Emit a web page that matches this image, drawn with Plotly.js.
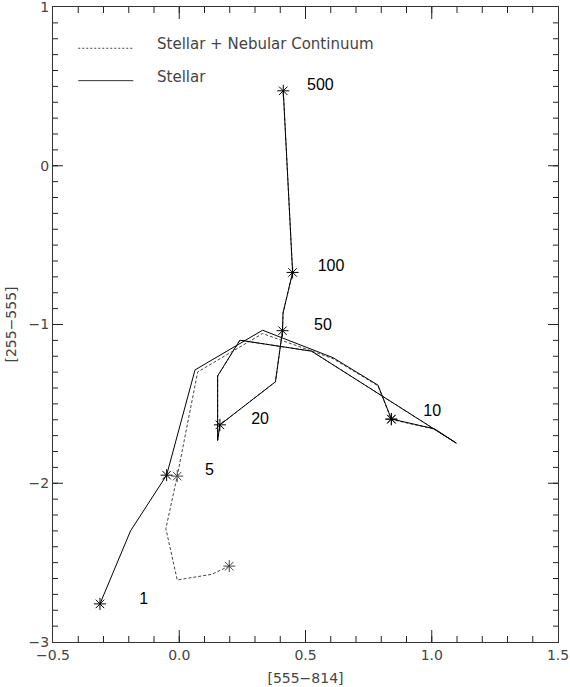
<!DOCTYPE html>
<html>
<head>
<meta charset="utf-8">
<script src="https://cdn.plot.ly/plotly-3.0.1.min.js"></script>
<style>
  body { margin: 0; background: #fff; }
  #plotArea { width: 570px; height: 687px; }
  #plotArea .crisp { shape-rendering: auto !important; }
</style>
</head>
<body>
<div id="plotArea"></div>
<script>
// Stellar track: colour [555-814] vs [255-555]
var stellarX = [-0.314, -0.193, -0.05, 0.0625, 0.33, 0.609, 0.787, 0.84, 1.011, 1.097,
  0.524, 0.24, 0.152, 0.152, 0.161, 0.381, 0.409, 0.411, 0.449, 0.412];
var stellarY = [-2.76, -2.30, -1.949, -1.286, -1.036, -1.209, -1.382, -1.595, -1.657, -1.747,
  -1.168, -1.099, -1.324, -1.73, -1.632, -1.361, -1.039, -0.928, -0.672, 0.472];
var stellarAgeIdx = [0, 2, 7, 14, 16, 18, 19];

// Stellar + nebular continuum track
var nebularX = [0.198, 0.128, -0.008, -0.053, -0.008, 0.073, 0.33, 0.609, 0.787, 0.84, 1.011, 1.097,
  0.524, 0.24, 0.152, 0.152, 0.161, 0.381, 0.409, 0.411, 0.449, 0.412];
var nebularY = [-2.522, -2.574, -2.609, -2.286, -1.955, -1.299, -1.057, -1.215, -1.386, -1.598, -1.66, -1.747,
  -1.168, -1.099, -1.324, -1.73, -1.632, -1.361, -1.039, -0.928, -0.672, 0.472];
var nebularAgeIdx = [0, 4, 9];

// age labels (Myr)
var ageText = ["1", "5", "10", "20", "50", "100", "500"];
var ageLabelX = [-0.141, 0.12, 1.002, 0.32, 0.569, 0.601, 0.559];
var ageLabelY = [-2.734, -1.922, -1.553, -1.599, -1.007, -0.636, 0.503];

// tick labels
var xTickVals = [-0.5, 0, 0.5, 1.0, 1.5];
var xTickText = ["\u22120.5", "0.0", "0.5", "1.0", "1.5"];
var yTickVals = [-3, -2, -1, 0, 1];
var yTickText = ["\u22123", "\u22122", "\u22121", "0", "1"];

function pick(arr, idx) {
  return idx.map(function (i) { return arr[i]; });
}

var nebularLine = {
  x: nebularX, y: nebularY, mode: "lines", type: "scatter",
  line: { color: "#444", width: 1, dash: "3px,2px" }
};
var nebularStars = {
  x: pick(nebularX, nebularAgeIdx), y: pick(nebularY, nebularAgeIdx),
  mode: "markers", type: "scatter",
  marker: { symbol: "asterisk-open", size: 10, color: "#444", line: { color: "#444", width: 1 } }
};
var stellarLine = {
  x: stellarX, y: stellarY, mode: "lines", type: "scatter",
  line: { color: "#000", width: 1 }
};
var stellarStars = {
  x: pick(stellarX, stellarAgeIdx), y: pick(stellarY, stellarAgeIdx),
  mode: "markers", type: "scatter",
  marker: { symbol: "asterisk-open", size: 10, color: "#000", line: { color: "#000", width: 1 } }
};
var ageLabels = {
  x: ageLabelX, y: ageLabelY, text: ageText, mode: "text", type: "scatter",
  textfont: { family: "Liberation Sans", size: 16, color: "#000" }
};

var data = [nebularLine, nebularStars, stellarLine, stellarStars, ageLabels];

var tickFont = { family: "DejaVu Sans", size: 14, color: "#444" };

var layout = {
  width: 570, height: 687,
  margin: { l: 53, r: 12, t: 7, b: 45 },
  showlegend: false,
  paper_bgcolor: "#fff", plot_bgcolor: "#fff",
  xaxis: {
    range: [-0.5, 1.5], tickmode: "array", tickvals: xTickVals, ticktext: xTickText,
    ticks: "inside", ticklen: 12, tickwidth: 1, tickcolor: "#222", mirror: "ticks",
    showline: true, linecolor: "#333", linewidth: 1, ticklabeloverflow: "allow",
    showgrid: false, zeroline: false, tickfont: tickFont,
    minor: { tick0: -0.5, dtick: 0.1, ticks: "inside", ticklen: 6, tickwidth: 1, tickcolor: "#222", showgrid: false },
    title: { text: "[555\u2212814]", font: tickFont, standoff: 11 }
  },
  yaxis: {
    range: [-3, 1], tickmode: "array", tickvals: yTickVals, ticktext: yTickText,
    ticks: "inside", ticklen: 10, tickwidth: 1, tickcolor: "#222", mirror: "ticks",
    showline: true, linecolor: "#333", linewidth: 1, ticklabeloverflow: "allow",
    showgrid: false, zeroline: false, tickfont: tickFont,
    minor: { tick0: 0, dtick: 0.1, ticks: "inside", ticklen: 5, tickwidth: 1, tickcolor: "#222", showgrid: false },
    title: { text: "[255\u2212555]", font: tickFont, standoff: 8 }
  },
  shapes: [
    { type: "line", xref: "paper", yref: "paper", x0: 0.05, x1: 0.159, y0: 0.935, y1: 0.935,
      line: { color: "#444", width: 1, dash: "2px,2px" } },
    { type: "line", xref: "paper", yref: "paper", x0: 0.05, x1: 0.159, y0: 0.884, y1: 0.884,
      line: { color: "#333", width: 1 } }
  ],
  annotations: [
    { xref: "paper", yref: "paper", x: 0.202, y: 0.9417, xanchor: "left", yanchor: "middle",
      text: "Stellar + Nebular Continuum", showarrow: false,
      font: { family: "DejaVu Sans", size: 15, color: "#444" } },
    { xref: "paper", yref: "paper", x: 0.202, y: 0.8898, xanchor: "left", yanchor: "middle",
      text: "Stellar", showarrow: false,
      font: { family: "DejaVu Sans", size: 15, color: "#444" } }
  ]
};

Plotly.newPlot("plotArea", data, layout, { staticPlot: true });
</script>
</body>
</html>
